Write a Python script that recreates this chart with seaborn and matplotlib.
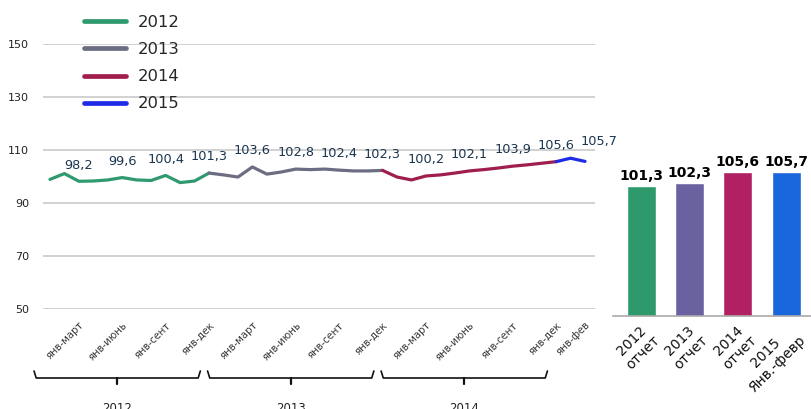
import numpy as np
import pandas as pd
import matplotlib
matplotlib.use("Agg")
import matplotlib.pyplot as plt
import matplotlib.transforms as mtransforms
from matplotlib.lines import Line2D
import seaborn as sns

# ---------------- data ----------------
years = [2012, 2013, 2014, 2015]
months = list(range(1, 39))  # Jan 2012 .. Feb 2015
monthly_index = [
    98.9, 101.1, 98.2, 98.3, 98.7, 99.6, 98.7, 98.5, 100.4, 97.7, 98.3, 101.3,      # 2012
    100.6, 99.8, 103.6, 100.9, 101.7, 102.8, 102.6, 102.8, 102.4, 102.1, 102.1, 102.3,  # 2013
    99.8, 98.7, 100.2, 100.6, 101.3, 102.1, 102.6, 103.2, 103.9, 104.4, 105.0, 105.6,   # 2014
    106.9, 105.7,                                                                 # 2015
]
label_months = [3, 6, 9, 12, 15, 18, 21, 24, 27, 30, 33, 36, 38]
label_values = [98.2, 99.6, 100.4, 101.3, 103.6, 102.8, 102.4, 102.3, 100.2, 102.1, 103.9, 105.6, 105.7]
tick_labels = ["янв-март", "янв-июнь", "янв-сент", "янв-дек"] * 3 + ["янв-фев"]
bracket_years = ["2012", "2013", "2014"]

bar_categories = ["2012\nотчет", "2013\nотчет", "2014\nотчет", "2015\nЯнв.-февр"]
bar_values = [101.3, 102.3, 105.6, 105.7]

line_colors = ["#2f9a6e", "#6c6c82", "#a01e4e", "#1f2be6"]
bar_colors = ["#2e9a6c", "#6a62a0", "#b02062", "#1a66dd"]

# ---------------- build long table (each year's segment starts at previous December) ----------------
rows = []
for yi, yr in enumerate(years):
    start = 12 * yi + 1
    end = min(12 * yi + 12, len(months))
    first = start - 1 if yi > 0 else start
    for m in range(first, end + 1):
        rows.append({"month": m, "value": monthly_index[m - 1], "year": str(yr)})
df = pd.DataFrame(rows)
bar_df = pd.DataFrame({"cat": bar_categories, "value": bar_values})

# ---------------- figure ----------------
sns.set_style("white")
plt.rcParams["font.family"] = ["DejaVu Sans"]
W, H = 812, 409
fig = plt.figure(figsize=(W / 100, H / 100), dpi=100)

def px_rect(x0, y0, x1, y1):
    return [x0 / W, 1 - y1 / H, (x1 - x0) / W, (y1 - y0) / H]

ax = fig.add_axes(px_rect(43, 44, 595, 309))
palette = dict(zip([str(y) for y in years], line_colors))
sns.lineplot(data=df, x="month", y="value", hue="year", palette=palette,
             linewidth=2.3, ax=ax, legend=False, sort=False, estimator=None,
             units="year")

ax.set_xlim(0.52, 38.69)
ax.set_ylim(50, 150)
ax.set_yticks([50, 70, 90, 110, 130, 150])
ax.set_yticklabels(["50", "70", "90", "110", "130", "150"], fontsize=8, color="#222222")
ax.yaxis.grid(True, color="#c9c9c9", linewidth=1.2)
ax.set_axisbelow(True)
for s in ax.spines.values():
    s.set_visible(False)
ax.tick_params(axis="y", length=0, pad=10)
ax.set_xticks(label_months)
ax.set_xticklabels(tick_labels, rotation=45, ha="right", va="top",
                   rotation_mode="anchor", fontsize=7.3, color="#3a3a3a")
ax.tick_params(axis="x", length=0, pad=8)
ax.set_xlabel("")
ax.set_ylabel("")

# data labels
n_lab = len(label_months)
for i, (m, v) in enumerate(zip(label_months, label_values)):
    last = i == n_lab - 1
    ax.annotate(f"{v:.1f}".replace(".", ","), xy=(m, v),
                xytext=(-3 if last else 0, 10 if last else 7),
                textcoords="offset points", ha="left" if last else "center",
                va="bottom", fontsize=9.3, color="#1b3550", zorder=10)

# year brackets below axis
trans = mtransforms.blended_transform_factory(ax.transData, ax.transAxes)
yb = (309 - 378) / 265
yh = (309 - 371) / 265
yt = (309 - 384) / 265
for k, name in enumerate(bracket_years):
    x0 = 12 * k - 0.1
    x1 = 12 * k + 11.4
    xc = (x0 + x1) / 2
    ax.plot([x0, x0 + 0.15, x1 - 0.15, x1], [yh, yb, yb, yh], color="#111111",
            lw=1.2, transform=trans, clip_on=False)
    ax.plot([xc, xc], [yb, yt], color="#111111", lw=1.6, transform=trans, clip_on=False)
    ax.text(xc, (309 - 409) / 265, name, transform=trans, ha="center", va="center",
            fontsize=8.5, color="#222222", clip_on=False)

# legend
handles = [Line2D([0], [0], color=c, lw=3.4) for c in line_colors]
fig.legend(handles, [str(y) for y in years], loc="upper left",
           bbox_to_anchor=(84 / W, 1 - 15 / H), frameon=False, fontsize=11.8,
           handlelength=2.55, handletextpad=0.75, labelspacing=0.74,
           borderaxespad=0, borderpad=0)

# ---------------- bar chart ----------------
bx = fig.add_axes(px_rect(613, 40, 812, 316))
bx.patch.set_visible(False)
sns.barplot(data=bar_df, x="cat", y="value", hue="cat", palette=bar_colors,
            width=0.6, ax=bx, legend=False, saturation=1)
bx.set_ylim(60.6, 147)
bx.set_xlim(-0.58, 3.53)
bx.set_yticks([])
bx.set_xlabel("")
bx.set_ylabel("")
for s in ["top", "right", "left"]:
    bx.spines[s].set_visible(False)
bx.spines["bottom"].set_color("#aaaaaa")
bx.spines["bottom"].set_linewidth(1.2)
bx.set_xticks(range(len(bar_categories)))
bx.set_xticklabels(bar_categories, rotation=45, ha="right", va="top",
                   rotation_mode="anchor", fontsize=10, color="#111111",
                   multialignment="center")
bx.tick_params(axis="x", length=0, pad=4)
bx.set_xticks([-0.5, 0.5, 1.5, 2.5, 3.5], minor=True)
bx.tick_params(axis="x", which="minor", length=4, color="#aaaaaa", direction="out")
for i, v in enumerate(bar_values):
    bx.annotate(f"{v:.1f}".replace(".", ","), xy=(i, v), xytext=(0, 2),
                textcoords="offset points", ha="center", va="bottom",
                fontsize=10, fontweight="bold", color="#000000")

fig.savefig("out.png", dpi=100)
